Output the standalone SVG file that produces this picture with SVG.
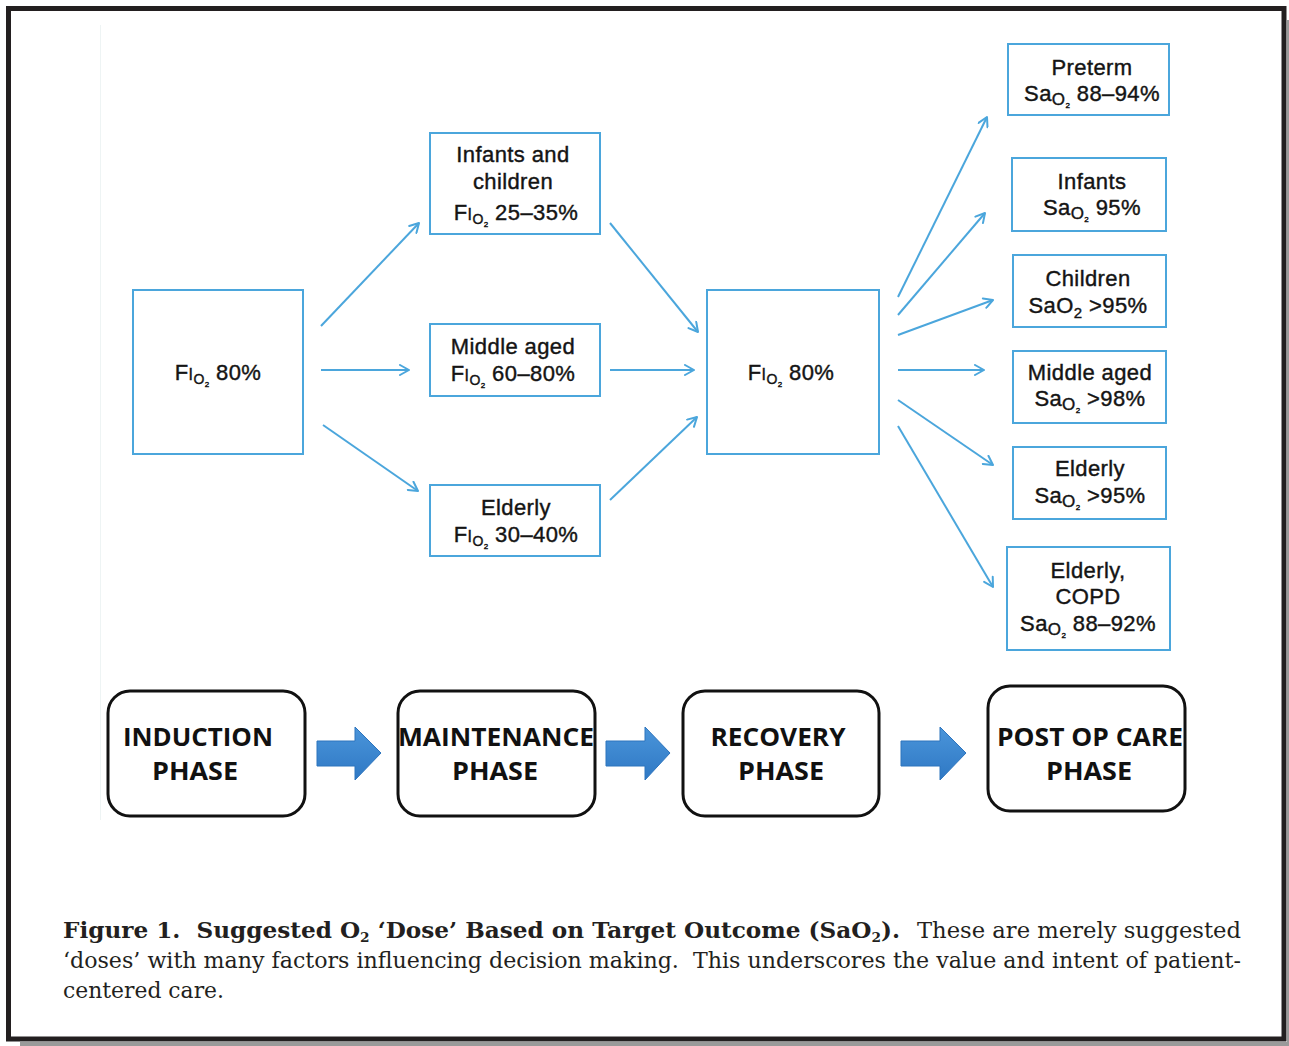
<svg xmlns="http://www.w3.org/2000/svg" width="1289" height="1046" viewBox="0 0 1289 1046">
  <style>
    .box { fill: #ffffff; stroke: #4ba6dc; stroke-width: 2; }
    .phase { fill: #ffffff; stroke: #111111; stroke-width: 3; }
    .lbl { font-family: "Liberation Sans", Arial, sans-serif; font-size: 22px; fill: #141414; stroke: #141414; stroke-width: 0.4px; text-anchor: middle; letter-spacing: 0.4px; }
    .ph { font-family: "Open Sans", "Noto Sans", sans-serif; font-weight: 700; font-size: 25px; fill: #111111; text-anchor: middle; }
    .cap { font-family: "DejaVu Serif", "Liberation Serif", serif; font-size: 22px; fill: #231f20; white-space: pre; }
    .capb { font-weight: 700; }
    .conn { stroke: #4ba6dc; stroke-width: 2; fill: none; marker-end: url(#chev); }
    .block { stroke: #2d74bd; stroke-width: 1; }
  </style>
  <defs>
    <marker id="chev" viewBox="0 0 12 12" refX="11" refY="6" markerWidth="12" markerHeight="12" markerUnits="userSpaceOnUse" orient="auto">
      <path d="M2,1 L11,6 L2,11" fill="none" stroke="#4ba6dc" stroke-width="2" stroke-linecap="round" stroke-linejoin="round"/>
    </marker>
    <linearGradient id="blockfill" x1="0" y1="0" x2="0" y2="1">
      <stop offset="0" stop-color="#4a95da"/>
      <stop offset="1" stop-color="#2f78c4"/>
    </linearGradient>
  </defs>

  <!-- page background, drop shadow and frame -->
  <rect x="0" y="0" width="1289" height="1046" fill="#ffffff"/>
  <rect x="1287" y="20" width="2" height="1026" fill="#9a9a9a"/>
  <rect x="20" y="1042" width="1269" height="4" fill="#9a9a9a"/>
  <rect x="8.5" y="8.5" width="1275.5" height="1030.5" fill="none" stroke="#231f20" stroke-width="5"/>
  <line x1="100.5" y1="25" x2="100.5" y2="820" stroke="#eef4f4" stroke-width="1"/>

  <!-- connectors -->
  <g id="connectors">
    <line class="conn" x1="321" y1="326" x2="419" y2="223"/>
    <line class="conn" x1="321" y1="370" x2="409" y2="370"/>
    <line class="conn" x1="323" y1="425" x2="418" y2="491"/>
    <line class="conn" x1="610" y1="223" x2="698" y2="332"/>
    <line class="conn" x1="610" y1="370" x2="694" y2="370"/>
    <line class="conn" x1="610" y1="500" x2="697" y2="417"/>
    <line class="conn" x1="898" y1="297" x2="987" y2="117"/>
    <line class="conn" x1="898" y1="315" x2="985" y2="213"/>
    <line class="conn" x1="898" y1="335" x2="993" y2="300"/>
    <line class="conn" x1="898" y1="370" x2="984" y2="370"/>
    <line class="conn" x1="898" y1="400" x2="993" y2="465"/>
    <line class="conn" x1="898" y1="426" x2="993" y2="587"/>
  </g>

  <!-- induction dose -->
  <g id="node-induction-fio2">
    <rect class="box" x="133" y="290" width="170" height="164"/>
    <text class="lbl" x="218" y="380">F<tspan font-size="16">I</tspan><tspan font-size="14" dy="4">O</tspan><tspan font-size="8" dy="3">2</tspan><tspan dy="-7"> 80%</tspan></text>
  </g>

  <!-- maintenance doses by group -->
  <g id="node-infants-children">
    <rect class="box" x="430" y="133" width="170" height="101"/>
    <text class="lbl" x="513" y="162">Infants and</text>
    <text class="lbl" x="513" y="189">children</text>
    <text class="lbl" x="516" y="220">F<tspan font-size="16">I</tspan><tspan font-size="14" dy="4">O</tspan><tspan font-size="8" dy="3">2</tspan><tspan dy="-7"> 25–35%</tspan></text>
  </g>
  <g id="node-middle-aged-fio2">
    <rect class="box" x="430" y="324" width="170" height="72"/>
    <text class="lbl" x="513" y="354">Middle aged</text>
    <text class="lbl" x="513" y="381">F<tspan font-size="16">I</tspan><tspan font-size="14" dy="4">O</tspan><tspan font-size="8" dy="3">2</tspan><tspan dy="-7"> 60–80%</tspan></text>
  </g>
  <g id="node-elderly-fio2">
    <rect class="box" x="430" y="485" width="170" height="71"/>
    <text class="lbl" x="516" y="515">Elderly</text>
    <text class="lbl" x="516" y="542">F<tspan font-size="16">I</tspan><tspan font-size="14" dy="4">O</tspan><tspan font-size="8" dy="3">2</tspan><tspan dy="-7"> 30–40%</tspan></text>
  </g>

  <!-- recovery dose -->
  <g id="node-recovery-fio2">
    <rect class="box" x="707" y="290" width="172" height="164"/>
    <text class="lbl" x="791" y="380">F<tspan font-size="16">I</tspan><tspan font-size="14" dy="4">O</tspan><tspan font-size="8" dy="3">2</tspan><tspan dy="-7"> 80%</tspan></text>
  </g>

  <!-- post-op saturation targets -->
  <g id="node-preterm">
    <rect class="box" x="1008" y="44" width="161" height="71"/>
    <text class="lbl" x="1092" y="75">Preterm</text>
    <text class="lbl" x="1092" y="101">Sa<tspan font-size="17" dy="4">O</tspan><tspan font-size="8" dy="3">2</tspan><tspan dy="-7"> 88–94%</tspan></text>
  </g>
  <g id="node-infants">
    <rect class="box" x="1012" y="158" width="154" height="73"/>
    <text class="lbl" x="1092" y="189">Infants</text>
    <text class="lbl" x="1092" y="215">Sa<tspan font-size="17" dy="4">O</tspan><tspan font-size="8" dy="3">2</tspan><tspan dy="-7"> 95%</tspan></text>
  </g>
  <g id="node-children">
    <rect class="box" x="1013" y="255" width="153" height="72"/>
    <text class="lbl" x="1088" y="286">Children</text>
    <text class="lbl" x="1088" y="313">SaO<tspan font-size="15" dy="5">2</tspan><tspan dy="-5"> &gt;95%</tspan></text>
  </g>
  <g id="node-middle-aged-sao2">
    <rect class="box" x="1013" y="351" width="153" height="72"/>
    <text class="lbl" x="1090" y="380">Middle aged</text>
    <text class="lbl" x="1090" y="406">Sa<tspan font-size="17" dy="4">O</tspan><tspan font-size="8" dy="3">2</tspan><tspan dy="-7"> &gt;98%</tspan></text>
  </g>
  <g id="node-elderly-sao2">
    <rect class="box" x="1013" y="447" width="153" height="72"/>
    <text class="lbl" x="1090" y="476">Elderly</text>
    <text class="lbl" x="1090" y="503">Sa<tspan font-size="17" dy="4">O</tspan><tspan font-size="8" dy="3">2</tspan><tspan dy="-7"> &gt;95%</tspan></text>
  </g>
  <g id="node-elderly-copd">
    <rect class="box" x="1007" y="547" width="163" height="103"/>
    <text class="lbl" x="1088" y="578">Elderly,</text>
    <text class="lbl" x="1088" y="604">COPD</text>
    <text class="lbl" x="1088" y="631">Sa<tspan font-size="17" dy="4">O</tspan><tspan font-size="8" dy="3">2</tspan><tspan dy="-7"> 88–92%</tspan></text>
  </g>

  <!-- phase timeline -->
  <g id="phase-induction">
    <rect class="phase" x="108" y="691" width="197" height="125" rx="22"/>
    <text class="ph" x="198" y="746" textLength="150" lengthAdjust="spacingAndGlyphs">INDUCTION</text>
    <text class="ph" x="195" y="780" textLength="86" lengthAdjust="spacingAndGlyphs">PHASE</text>
  </g>
  <g id="phase-maintenance">
    <rect class="phase" x="398" y="691" width="197" height="125" rx="22"/>
    <text class="ph" x="496" y="746" textLength="196" lengthAdjust="spacingAndGlyphs">MAINTENANCE</text>
    <text class="ph" x="495" y="780" textLength="86" lengthAdjust="spacingAndGlyphs">PHASE</text>
  </g>
  <g id="phase-recovery">
    <rect class="phase" x="683" y="691" width="196" height="125" rx="22"/>
    <text class="ph" x="778" y="746" textLength="135" lengthAdjust="spacingAndGlyphs">RECOVERY</text>
    <text class="ph" x="781" y="780" textLength="86" lengthAdjust="spacingAndGlyphs">PHASE</text>
  </g>
  <g id="phase-postop">
    <rect class="phase" x="988" y="686" width="197" height="125" rx="22"/>
    <text class="ph" x="1090" y="746" textLength="186" lengthAdjust="spacingAndGlyphs">POST OP CARE</text>
    <text class="ph" x="1089" y="780" textLength="86" lengthAdjust="spacingAndGlyphs">PHASE</text>
  </g>

  <!-- block arrows between phases -->
  <g id="phase-arrows">
    <path class="block" fill="url(#blockfill)" d="M317,741 L355,741 L355,727 L381,753 L355,780 L355,766 L317,766 Z"/>
    <path class="block" fill="url(#blockfill)" d="M606,741 L645,741 L645,727 L670,753 L645,780 L645,766 L606,766 Z"/>
    <path class="block" fill="url(#blockfill)" d="M901,741 L940,741 L940,727 L966,753 L940,780 L940,766 L901,766 Z"/>
  </g>

  <!-- caption -->
  <g id="caption">
    <text class="cap capb" x="63" y="938" textLength="837" lengthAdjust="spacingAndGlyphs">Figure 1.  Suggested O<tspan font-size="13" dy="4">2</tspan><tspan dy="-4"> ‘Dose’ Based on Target Outcome (SaO</tspan><tspan font-size="13" dy="4">2</tspan><tspan dy="-4">).</tspan></text>
    <text class="cap" x="917" y="938" textLength="324" lengthAdjust="spacingAndGlyphs">These are merely suggested</text>
    <text class="cap" x="63" y="968" textLength="1178" lengthAdjust="spacingAndGlyphs">‘doses’ with many factors influencing decision making.  This underscores the value and intent of patient-</text>
    <text class="cap" x="63" y="998" textLength="161" lengthAdjust="spacingAndGlyphs">centered care.</text>
  </g>
</svg>
